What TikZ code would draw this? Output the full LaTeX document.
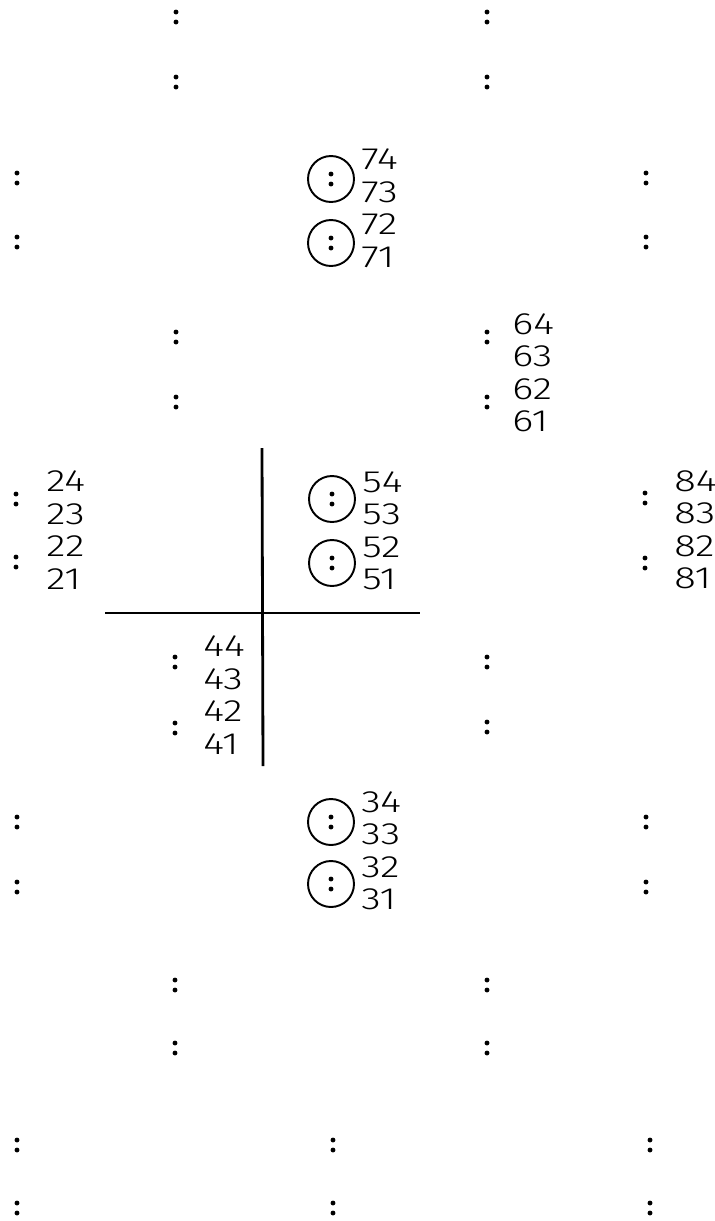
\documentclass[tikz,border=0pt]{standalone}
\usepackage{fontspec}
\usetikzlibrary{positioning}
\newfontfamily\numfont{Fira Sans}[UprightFont={* Light}, FakeStretch=1.3]

\begin{document}
\begin{tikzpicture}[x=0.02cm, y=-0.02cm,
    dots/.pic={\fill (0,-5) circle (1.4pt); \fill (0,5) circle (1.4pt);},
    ring/.style={circle, draw, line width=1.1pt, minimum size=0.92cm, inner sep=0pt},
    nums/.style={anchor=west, align=left, inner sep=0pt, font=\numfont\fontsize{17.5}{18.5}\selectfont},
    cross/.style={line width=1.6pt}]
  \useasboundingbox (0,0) rectangle (715,1221);

  % loose pairs of dots
  \foreach \x/\y in {176/17, 176/82, 487/17, 487/82,
                     17/178, 17/242, 646/178, 646/242,
                     176/337, 176/402, 487/337, 487/402,
                     16/499, 16/562, 645/498, 645/563,
                     175/662, 175/728, 487/662, 487/727,
                     17/822, 17/887, 646/822, 646/887,
                     175/985, 175/1048, 487/985, 487/1048,
                     17/1145, 17/1208, 333/1145, 333/1208, 650/1145, 650/1208}
    \pic at (\x,\y) {dots};

  % ringed pairs
  \node[ring] (r74) at (331,179) {};
  \node[ring] (r72) at (331,243) {};
  \node[ring] (r54) at (332,499) {};
  \node[ring] (r52) at (332,563) {};
  \node[ring] (r34) at (331,822) {};
  \node[ring] (r32) at (331,884) {};
  \foreach \r in {r74, r72, r54, r52, r34, r32}
    \pic at (\r) {dots};

  % numbers
  \node[nums] (n7) at (361,208) {74\\73\\72\\71};
  \node[nums] (n6) at (512,373) {64\\63\\62\\61};
  \node[nums] (n2) at (46,530) {24\\23\\22\\21};
  \node[nums] (n5) at (362,531) {54\\53\\52\\51};
  \node[nums] (n8) at (674,530) {84\\83\\82\\81};
  \node[nums] (n4) at (203,695) {44\\43\\42\\41};
  \node[nums] (n3) at (361,851) {34\\33\\32\\31};

  % cross
  \coordinate (vtop) at (262,448);
  \coordinate (vbot) at (263,766);
  \coordinate (hleft) at (105,613);
  \coordinate (hright) at (420,613);
  \draw[cross] (vtop) -- (vbot);
  \draw[cross] (hleft) -- (hright);
\end{tikzpicture}
\end{document}
